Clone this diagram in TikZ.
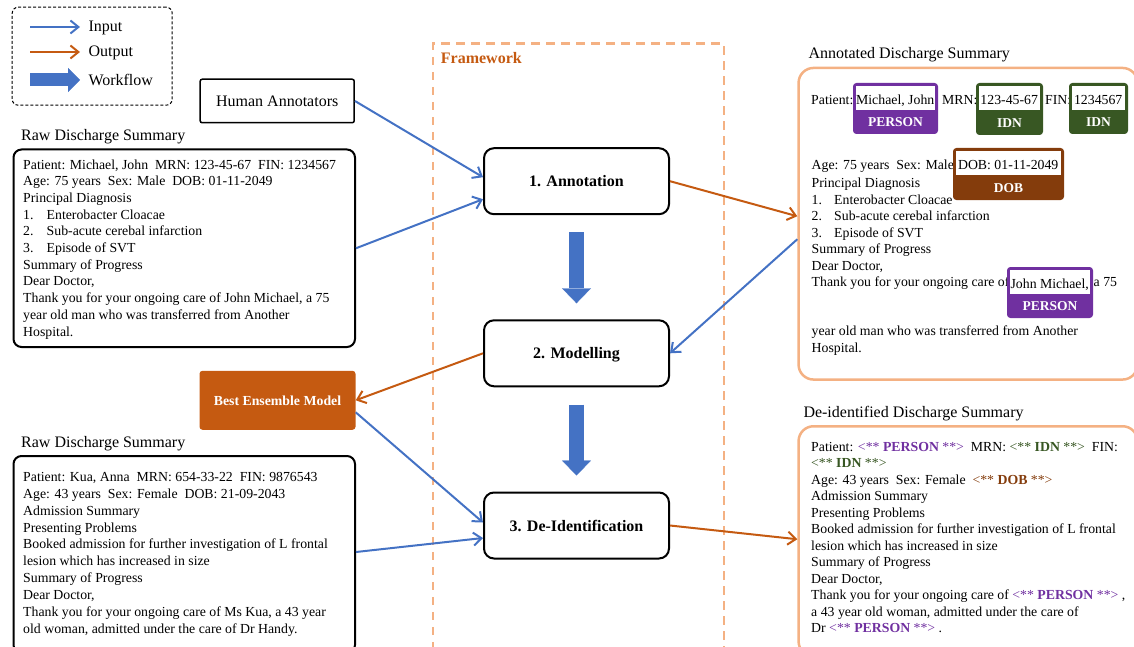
\documentclass[tikz,border=0pt]{standalone}
\usepackage{fontspec}
\setmainfont{Liberation Serif}
\usetikzlibrary{arrows.meta,calc}

\definecolor{inblue}{HTML}{4472C4}
\definecolor{outorange}{HTML}{C55A11}
\definecolor{framepeach}{HTML}{F4B183}
\definecolor{tagpurple}{HTML}{7030A0}
\definecolor{taggreen}{HTML}{385723}
\definecolor{tagbrown}{HTML}{843C0C}

\newcommand{\maskperson}{\textcolor{tagpurple}{<** \textbf{PERSON} **>}}
\newcommand{\maskidn}{\textcolor{taggreen}{<** \textbf{IDN} **>}}
\newcommand{\maskdob}{\textcolor{tagbrown}{<** \textbf{DOB} **>}}

\begin{document}
\begin{tikzpicture}[x=1pt,y=-1pt]
    \tikzstyle{stage} = [draw, line width=2pt, rounded corners=10, fill=white, minimum width=185, minimum height=66, text height=11, text depth=0, font=\fontsize{16}{19}\selectfont\bfseries]
    \tikzstyle{docbox} = [draw, line width=2pt, rounded corners=8, anchor=north west]
    \tikzstyle{outbox} = [draw=framepeach, line width=2.5pt, rounded corners=15, anchor=north west]
    \tikzstyle{doctext} = [anchor=north west, align=left, inner sep=0, font=\fontsize{13.8}{16.5}\selectfont]
    \tikzstyle{docline} = [anchor=base west, inner sep=0, font=\fontsize{13.8}{16.5}\selectfont]
    \tikzstyle{heading} = [anchor=base west, inner sep=0, font=\fontsize{16}{19}\selectfont]
    \tikzstyle{tag} = [draw=#1, fill=#1, line width=1pt, rounded corners=3, anchor=north west, inner sep=0]
    \tikzstyle{tagtext} = [fill=white, anchor=north west, inner sep=0, text height=18.5, text depth=6, font=\fontsize{13.8}{16.5}\selectfont]
    \tikzstyle{taglabel} = [text=white, inner sep=0, font=\fontsize{13.5}{16.5}\selectfont\bfseries]
    \tikzstyle{inarrow} = [inblue, line width=2pt, -{Straight Barb[length=8pt,width=13pt]}]
    \tikzstyle{outarrow} = [outorange, line width=2pt, -{Straight Barb[length=8pt,width=13pt]}]
    \tikzstyle{flowarrow} = [inblue, line width=15pt, -{Triangle[length=15pt,width=29pt,line width=0.4pt]}]

    \useasboundingbox (0,0) rectangle (1134,647);

    % legend
    \node (lgbox) [draw, dash pattern=on 3pt off 2pt, line width=1pt, rounded corners=6, minimum width=160, minimum height=98, anchor=north west] at (11.7,6.7) {};
    \coordinate (lgi1) at (30,27);
    \coordinate (lgi2) at (80,27);
    \coordinate (lgo1) at (30,52);
    \coordinate (lgo2) at (80,52);
    \coordinate (lgw1) at (30,80);
    \coordinate (lgw2) at (80,80);
    \draw [inarrow] (lgi1) -- (lgi2);
    \draw [outarrow] (lgo1) -- (lgo2);
    \draw [flowarrow, line width=13pt, -{Triangle[length=12pt,width=24pt,line width=0.4pt]}] (lgw1) -- (lgw2);
    \node (lgin) [heading] at (88.3,32) {Input};
    \node (lgout) [heading] at (88.3,57) {Output};
    \node (lgflow) [heading] at (88.3,85.5) {Workflow};

    % framework
    \node (fw) [draw=framepeach, line width=2.7pt, dash pattern=on 8.5pt off 6.5pt, minimum width=291, minimum height=620, anchor=north west] at (431.5,42.5) {};
    \node (fwlabel) [heading, text=outorange, font=\fontsize{16}{19}\selectfont\bfseries] at ($(fw.north west)+(9.2,21.5)$) {Framework};

    \node (ann) [stage] at (576.5,181.2) {1. Annotation};
    \node (mod) [stage] at (576.5,353.3) {2. Modelling};
    \node (de) [stage] at (576.5,525.5) {3. De-Identification};

    % left side
    \node (ha) [draw, line width=1.5pt, rounded corners=2, minimum width=154, minimum height=43.5, text height=11, text depth=0, font=\fontsize{16}{19}\selectfont] at (277.2,101) {Human Annotators};

    \node (raw1title) [heading] at (21,140.5) {Raw Discharge Summary};
    \node (raw1) [docbox, minimum width=341.5, minimum height=197.5] at (12.5,148.5) {};
    \node (raw1txt) [doctext, font=\fontsize{13.8}{16.7}\selectfont] at (23,159.3) {Patient: Michael, John\ \ MRN: 123-45-67\ \ FIN: 1234567\\
        Age: 75 years\ \ Sex: Male\ \ DOB: 01-11-2049\\
        Principal Diagnosis\\
        \makebox[23.5pt][l]{1.}Enterobacter Cloacae\\
        \makebox[23.5pt][l]{2.}Sub-acute cerebal infarction\\
        \makebox[23.5pt][l]{3.}Episode of SVT\\
        Summary of Progress\\
        Dear Doctor,\\
        Thank you for your ongoing care of John Michael, a 75\\
        year old man who was transferred from Another\\
        Hospital.};

    \node (best) [fill=outorange, rounded corners=3, minimum width=156, minimum height=59, text=white, text height=9.5, text depth=0, font=\fontsize{13.8}{16}\selectfont\bfseries] at (277.5,400.3) {Best Ensemble Model};

    \node (raw2title) [heading] at (21,447) {Raw Discharge Summary};
    \node (raw2) [docbox, minimum width=341.5, minimum height=197] at (12.5,455) {};
    \node (raw2txt) [doctext, font=\fontsize{13.8}{16.9}\selectfont] at (23,472) {Patient: Kua, Anna\ \ MRN: 654-33-22\ \ FIN: 9876543\\
        Age: 43 years\ \ Sex: Female\ \ DOB: 21-09-2043\\
        Admission Summary\\
        Presenting Problems\\
        Booked admission for further investigation of L frontal\\
        lesion which has increased in size\\
        Summary of Progress\\
        Dear Doctor,\\
        Thank you for your ongoing care of Ms Kua, a 43 year\\
        old woman, admitted under the care of Dr Handy.};

    % annotated summary
    \node (annottitle) [heading] at (808.3,59) {Annotated Discharge Summary};
    \node (annot) [outbox, minimum width=339, minimum height=311.6] at (797.3,66.7) {};
    \node (pat) [docline] at (811,104.5) {Patient:};
    \node (mrn) [docline] at (942,104.5) {MRN:};
    \node (fin) [docline] at (1045,104.5) {FIN:};
    \node (age) [docline] at (811.5,169.5) {Age: 75 years\ \ Sex: Male};
    \node (diag) [doctext] at (811.5,178) {Principal Diagnosis\\
        \makebox[22.5pt][l]{1.}Enterobacter Cloacae\\
        \makebox[22.5pt][l]{2.}Sub-acute cerebal infarction\\
        \makebox[22.5pt][l]{3.}Episode of SVT\\
        Summary of Progress\\
        Dear Doctor,\\
        Thank you for your ongoing care of};
    \node (rest) [doctext] at (811.5,326) {year old man who was transferred from Another\\
        Hospital.};

    \node (tagname) [tag=tagpurple, minimum width=84, minimum height=50] at (853,83) {};
    \node (tagnametxt) [tagtext, minimum width=79] at ($(tagname.north west)+(2.5,2.5)$) {Michael, John};
    \node (tagnamelab) [taglabel] at ($(tagname.south)+(0,-11.5)$) {PERSON};
    \node (tagmrn) [tag=taggreen, minimum width=66, minimum height=51] at (976,83) {};
    \node (tagmrntxt) [tagtext, minimum width=61] at ($(tagmrn.north west)+(2.5,2.5)$) {123-45-67};
    \node (tagmrnlab) [taglabel] at ($(tagmrn.south)+(0,-12)$) {IDN};
    \node (tagfin) [tag=taggreen, minimum width=58, minimum height=50] at (1069,83) {};
    \node (tagfintxt) [tagtext, minimum width=53] at ($(tagfin.north west)+(2.5,2.5)$) {1234567};
    \node (tagfinlab) [taglabel] at ($(tagfin.south)+(0,-11.5)$) {IDN};
    \node (tagdob) [tag=tagbrown, minimum width=110, minimum height=51] at (953,148) {};
    \node (tagdobtxt) [tagtext, minimum width=105] at ($(tagdob.north west)+(2.5,2.5)$) {DOB: 01-11-2049};
    \node (tagdoblab) [taglabel] at ($(tagdob.south)+(0,-12)$) {DOB};
    \node (tagjm) [tag=tagpurple, minimum width=85, minimum height=50] at (1007,267) {};
    \node (tagjmtxt) [tagtext, minimum width=80] at ($(tagjm.north west)+(2.5,2.5)$) {John Michael,};
    \node (tagjmlab) [taglabel] at ($(tagjm.south)+(0,-11.5)$) {PERSON};
    \node (a75) [docline] at (1093.5,286.5) {a 75};

    % de-identified summary
    \node (deidtitle) [heading] at (803.3,417) {De-identified Discharge Summary};
    \node (deid) [outbox, minimum width=339, minimum height=230] at (797.3,425) {};
    \node (deidtxt) [doctext] at (811,442) {Patient: \maskperson\ \ MRN: \maskidn\ \ FIN:\\
        \maskidn\\
        Age: 43 years\ \ Sex: Female\ \ \maskdob\\
        Admission Summary\\
        Presenting Problems\\
        Booked admission for further investigation of L frontal\\
        lesion which has increased in size\\
        Summary of Progress\\
        Dear Doctor,\\
        Thank you for your ongoing care of \maskperson\ ,\\
        a 43 year old woman, admitted under the care of\\
        Dr \maskperson\ .};

    % connectors
    \draw [flowarrow, shorten <=17pt, shorten >=16pt] (ann) -- (mod);
    \draw [flowarrow, shorten <=17.3pt, shorten >=16pt] (mod) -- (de);
    \draw [inarrow] (ha.east) -- ($(ann.west)+(0,-4)$);
    \draw [inarrow] (raw1.east) -- ($(ann.west)+(0,18)$);
    \draw [outarrow] (ann.east) -- ($(annot.west)+(0,-7.5)$);
    \draw [inarrow] ($(annot.west)+(0,15.5)$) -- (mod.east);
    \draw [outarrow] (mod.west) -- (best.east);
    \draw [inarrow] ($(best.east)+(0,12)$) -- ($(de.west)+(0,-3)$);
    \draw [inarrow] ($(raw2.east)+(0,-2.5)$) -- ($(de.west)+(0,12.5)$);
    \draw [outarrow] (de.east) -- ($(deid.west)+(0,-2)$);
\end{tikzpicture}
\end{document}
